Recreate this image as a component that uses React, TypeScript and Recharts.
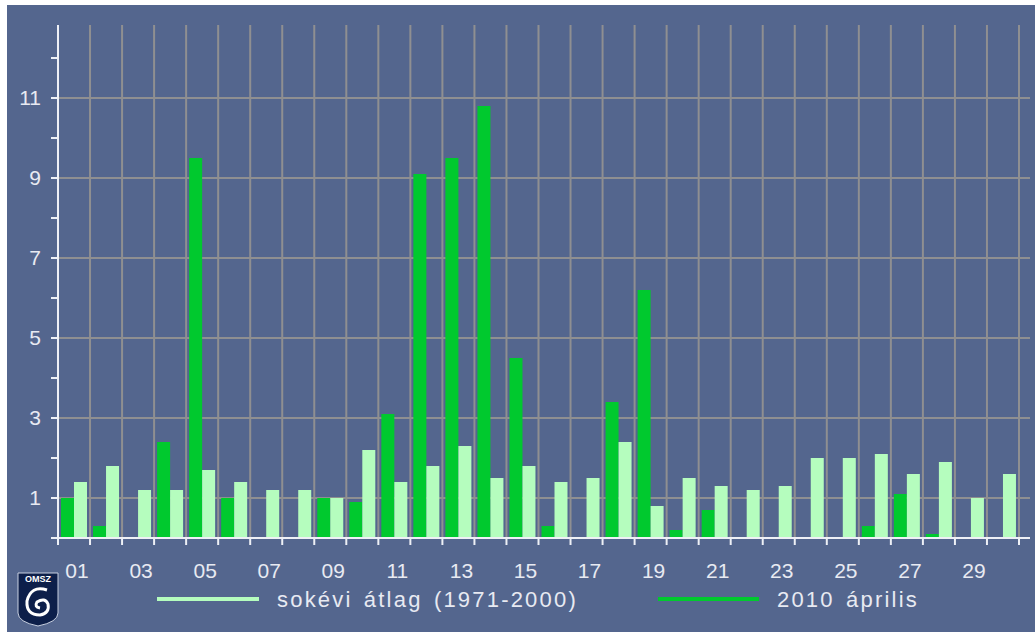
import { BarChart, Bar, XAxis, YAxis, CartesianGrid } from "recharts";

const days = ["01", "02", "03", "04", "05", "06", "07", "08", "09", "10", "11", "12", "13", "14", "15",
  "16", "17", "18", "19", "20", "21", "22", "23", "24", "25", "26", "27", "28", "29", "30"];
// 2010 április, napi érték
const april2010 = [1.0, 0.3, 0, 2.4, 9.5, 1.0, 0, 0, 1.0, 0.9, 3.1, 9.1, 9.5, 10.8, 4.5,
  0.3, 0, 3.4, 6.2, 0.2, 0.7, 0, 0, 0, 0, 0.3, 1.1, 0.1, 0, 0];
// sokévi átlag (1971-2000)
const longTermAvg = [1.4, 1.8, 1.2, 1.2, 1.7, 1.4, 1.2, 1.2, 1.0, 2.2, 1.4, 1.8, 2.3, 1.5, 1.8,
  1.4, 1.5, 2.4, 0.8, 1.5, 1.3, 1.2, 1.3, 2.0, 2.0, 2.1, 1.6, 1.9, 1.0, 1.6];
const yTicks = [0, 1, 2, 3, 4, 5, 6, 7, 8, 9, 10, 11, 12];
const yGrid = [1, 3, 5, 7, 9, 11];
const Y_MAX = 12.825;
const legendLabels = ["sokévi átlag (1971-2000)", "2010 április"];

const data = days.map((day, i) => ({ day, y2010: april2010[i], avg: longTermAvg[i] }));

const BG = "#54668e";
const GREEN = "#00c92e";
const LIGHT = "#b5fdbe";
const GRID = "#8f8f91";
const AXIS = "#eef0f6";
const TXT = "#e8eaf2";
const FONT = "'Liberation Sans', Arial, sans-serif";
const PAD_RIGHT = 11;
const FALLBACK_BAND = 961 / 30;

// recharts 3 may hand over either a d3 scale or a wrapper with .map()
function applyScale(s: any, v: any): number | undefined {
  if (typeof s === "function") return s(v);
  if (s && typeof s.map === "function") return s.map(v);
  return undefined;
}

function DayTick(props: any) {
  const { x, y, payload, index, width, visibleTicksCount } = props;
  const band = typeof width === "number" && visibleTicksCount ? (width - PAD_RIGHT) / visibleTicksCount : FALLBACK_BAND;
  const n = parseInt(payload.value, 10);
  const last = index === days.length - 1;
  return (
    <g>
      <line x1={x - band / 2} x2={x - band / 2} y1={y} y2={y + 7} stroke={AXIS} strokeWidth={2} />
      {last && <line x1={x + band / 2} x2={x + band / 2} y1={y} y2={y + 7} stroke={AXIS} strokeWidth={2} />}
      {n % 2 === 1 && (
        <text x={x + 3} y={y + 40} textAnchor="middle" fill={TXT} fontSize={21} fontFamily={FONT}>
          {payload.value}
        </text>
      )}
    </g>
  );
}

export default function App() {
  return (
    <div style={{ position: "absolute", left: 0, top: 0, width: 1035, height: 632, background: "#fff" }}>
      <div style={{ position: "absolute", left: 7, top: 5, width: 1028, height: 627, background: BG }}>
        <BarChart
          width={1028}
          height={627}
          data={data}
          margin={{ top: 20, right: 5, bottom: 54, left: 0 }}
          barGap={0}
          barCategoryGap={3}
        >
          <CartesianGrid
            stroke={GRID}
            strokeWidth={2}
            verticalCoordinatesGenerator={({ offset }: any) => {
              const w = (offset.width - PAD_RIGHT) / days.length;
              return [...days.map((_, i) => offset.left + i * w), offset.left + days.length * w];
            }}
            horizontalCoordinatesGenerator={({ yAxis, offset }: any) =>
              yGrid.map((v) => {
                const c = applyScale(yAxis && yAxis.scale, v);
                return typeof c === "number" && !isNaN(c) ? c : offset.top + offset.height * (1 - v / Y_MAX);
              })
            }
          />
          <XAxis
            dataKey="day"
            interval={0}
            height={40}
            padding={{ left: 0, right: PAD_RIGHT }}
            axisLine={{ stroke: AXIS, strokeWidth: 2 }}
            tickLine={false}
            tickSize={0}
            tickMargin={0}
            tick={<DayTick />}
          />
          <YAxis
            width={51}
            domain={[0, Y_MAX]}
            ticks={yTicks}
            interval={0}
            tickFormatter={(v: number) => (v % 2 === 1 ? String(v) : "")}
            axisLine={{ stroke: AXIS, strokeWidth: 2 }}
            tickLine={{ stroke: AXIS, strokeWidth: 2 }}
            tickSize={7}
            tickMargin={10}
            tick={{ fill: TXT, fontSize: 21, fontFamily: FONT }}
          />
          <Bar dataKey="y2010" fill={GREEN} isAnimationActive={false} />
          <Bar dataKey="avg" fill={LIGHT} isAnimationActive={false} />
        </BarChart>
        <svg
          width={1028}
          height={627}
          style={{ position: "absolute", left: 0, top: 0, pointerEvents: "none" }}
        >
          <rect x={150} y={592} width={102} height={4} fill={LIGHT} />
          <text x={270} y={602} fill={TXT} fontSize={22} fontFamily={FONT} letterSpacing={2.2} wordSpacing={3}>
            {legendLabels[0]}
          </text>
          <rect x={651} y={592} width={101} height={4} fill={GREEN} />
          <text x={770} y={602} fill={TXT} fontSize={22} fontFamily={FONT} letterSpacing={2.2} wordSpacing={3}>
            {legendLabels[1]}
          </text>
          <g>
            <path d="M11 568 H51 V608 Q51 617 31 621 Q11 617 11 608 Z" fill="#0d1f4a" stroke="#c8d0e0" strokeWidth={1} />
            <text x={31} y={577} textAnchor="middle" fill="#ffffff" fontSize={9} fontWeight="bold" fontFamily={FONT}>
              OMSZ
            </text>
            <path
              d="M40 585 Q24 580 20 596 Q19 610 33 610 Q43 608 41 599 Q38 592 30 597 Q27 602 33 603"
              fill="none"
              stroke="#ffffff"
              strokeWidth={3}
            />
          </g>
        </svg>
      </div>
    </div>
  );
}
